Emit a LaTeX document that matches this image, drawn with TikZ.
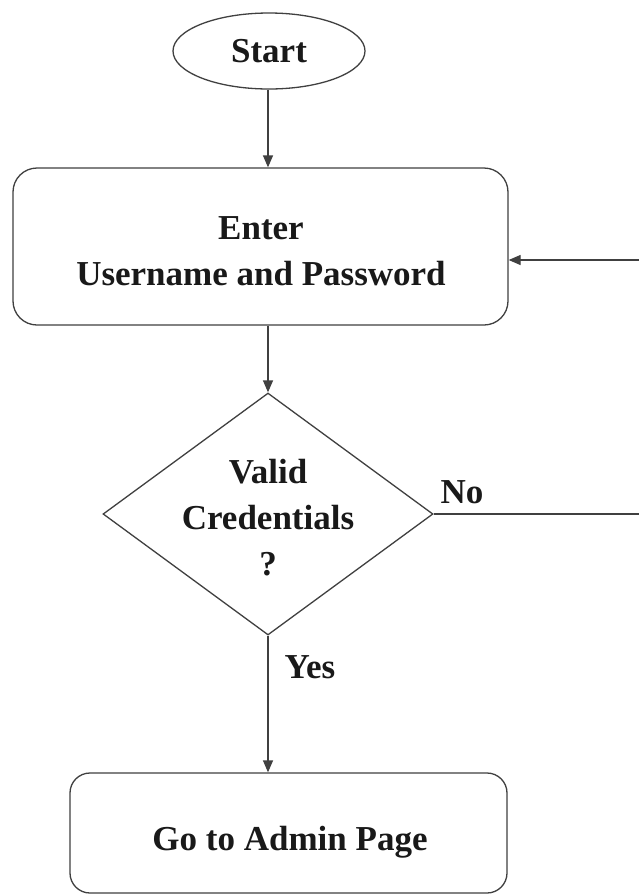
\documentclass[tikz,border=0pt]{standalone}
\usepackage{fontspec}
\setmainfont{Liberation Serif}
\usetikzlibrary{shapes.geometric,arrows.meta}
\begin{document}
\begin{tikzpicture}[x=1pt,y=-1pt,
  txt/.style={font=\fontsize{35}{46}\selectfont\bfseries, text=black!90},
  ln/.style={draw=black!75, line width=1.3pt},
  arr/.style={ln, -{Triangle[length=12pt,width=10pt]}},
  rbox/.style={ln, rounded corners=24pt, inner sep=0pt}]
\useasboundingbox (0,0) rectangle (639,895);
\clip (0,0) rectangle (639,895);
\fill[white] (0,0) rectangle (639,895);

\node[ellipse, ln, minimum width=192pt, minimum height=76pt, inner sep=0pt, txt] (start) at (269,51) {Start};

\node[rbox, minimum width=495pt, minimum height=157pt] (enter) at (260.5,246.5) {};
\node[txt, align=center] (entertxt) at (261,251) {Enter\\Username and Password};

\node[diamond, ln, minimum width=330pt, minimum height=242pt, inner sep=0pt] (dec) at (268,514) {};
\node[txt, align=center] (dectxt) at (268,518) {Valid\\Credentials\\?};

\node[rbox, rounded corners=20pt, minimum width=437pt, minimum height=120pt] (admin) at (288.5,833) {};
\node[txt] (admintxt) at (290,842) {Go to Admin Page};

\node[txt, inner sep=0pt] (no) at (462,492) {No};
\node[txt, inner sep=0pt] (yes) at (310,667) {Yes};

\coordinate (c1) at (660,514);
\coordinate (c2) at (660,260);
\coordinate (c3) at (enter.east |- c2);

\draw[arr] (268,0 |- start.south) -- (268,0 |- enter.north);
\draw[arr] (268,0 |- enter.south) -- (dec.north);
\draw[arr] (dec.south) -- (268,0 |- admin.north);
\draw[arr] (dec.east) -- (c1) -- (c2) -- (c3);
\end{tikzpicture}
\end{document}
